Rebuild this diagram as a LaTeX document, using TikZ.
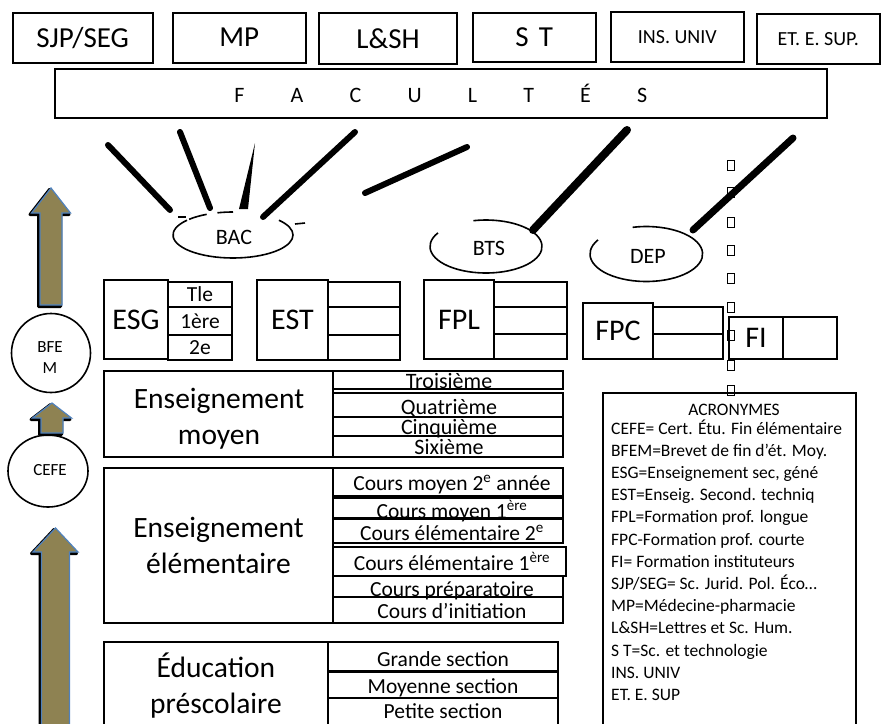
\documentclass[tikz,border=0pt]{standalone}
\usepackage{fontspec}
\setmainfont{Carlito}
\usetikzlibrary{shapes.geometric}
\definecolor{olivefill}{RGB}{142,130,82}
\definecolor{arrblue}{RGB}{79,129,189}
\newcommand\myfs[1]{\fontsize{#1}{#1}\selectfont}
\newcommand\rbox[7][]{\node[bx,#1,minimum width={(#5-#3)*1pt},minimum height={(#6-#4)*1pt}] (#2) at ({(#3+#5)/2},{(#4+#6)/2}) {#7};}
\newcommand\myarrow[6]{%
  \begin{scope}[shift={(-1.5,1.5)}]
    \draw[arrshadow] (#1,#2) -- ({#1+#5},#3) -- ({#1+#6},#3) -- ({#1+#6},#4) -- ({#1-#6},#4) -- ({#1-#6},#3) -- ({#1-#5},#3) -- cycle;
  \end{scope}
  \draw[arrmain] (#1,#2) -- ({#1+#5},#3) -- ({#1+#6},#3) -- ({#1+#6},#4) -- ({#1-#6},#4) -- ({#1-#6},#3) -- ({#1-#5},#3) -- cycle;
}
\newcommand\lsp{\hskip 2.1em}
\begin{document}
\begin{tikzpicture}[x=1pt,y=-1pt,
  bx/.style={draw,line width=2pt,inner sep=0pt,outer sep=0pt},
  t27/.style={font=\myfs{29}},
  t18/.style={font=\myfs{20}},
  t21/.style={font=\myfs{22},inner sep=0pt},
  t20/.style={font=\myfs{21.5},inner sep=0pt},
  t29/.style={font=\myfs{30}},
  lbl/.style={font=\fontsize{29.5}{36}\selectfont,align=center},
  acr/.style={font=\myfs{17.5},inner sep=0pt,anchor=base west},
  ell/.style={line width=1.6pt},
  stk/.style={line width=6pt,line cap=round},
  arrshadow/.style={fill=black,draw=black,line width=3pt,line join=round},
  arrmain/.style={fill=olivefill,draw=arrblue,line width=1.2pt,line join=miter},
  tofu/.style={line width=0.7pt},
  circ/.style={draw,line width=1.6pt,inner sep=0pt}]
\useasboundingbox (0,0) rectangle (882,723);
\clip (0,0) rectangle (882,723);

% top row
\rbox[t27]{sjp}{12.7}{12.7}{152.7}{62.7}{SJP/SEG}
\rbox[t27]{mp}{172.7}{12.5}{305.7}{62.5}{MP}
\rbox[t27]{lsh}{319.3}{12.7}{456.7}{64}{L\&SH}
\rbox[t27]{st}{472.7}{13}{595.7}{62}{S\hskip0.35em T}
\rbox[t18]{ins}{611}{12}{743.7}{62}{INS. UNIV}
\rbox[t18]{et}{756.7}{14}{880}{64}{ET. E. SUP.}

% faculties
\rbox[font=\myfs{22}]{fac}{55}{69.3}{826.7}{118.3}{F\lsp A\lsp C\lsp U\lsp L\lsp T\lsp É\lsp S}

% strokes
\draw[stk] (108,145) -- (170,210);
\draw[stk] (180,132) -- (210,208);
\fill (255,143) -- (248,209) -- (239,209) -- cycle;
\draw[stk] (355,132) -- (263,217);
\draw[stk] (467,147) -- (365,193);
\draw[stk,line width=8pt] (627,130) -- (533,230);
\draw[stk,line width=7pt] (793,138) -- (693,230);

% ellipses
\draw[ell] (233,235) ++(140:60pt and 23pt) arc[start angle=140,end angle=400,x radius=60pt,y radius=23pt];
\draw[ell] (233,235) ++(116:60pt and 23pt) arc[start angle=116,end angle=137,x radius=60pt,y radius=23pt];
\draw[ell] (233,235) ++(90:60pt and 23pt) arc[start angle=90,end angle=105,x radius=60pt,y radius=23pt];
\draw[ell] (178,217) -- (186,217);
\draw[ell] (295,224) -- (305,223);
\node[t21] (bac) at (234,237) {BAC};
\draw[ell] (486,246.5) ++(149:56pt and 26.5pt) arc[start angle=149,end angle=463,x radius=56pt,y radius=26.5pt];
\node[t21] (bts) at (489,248) {BTS};
\draw[ell] (646.3,254) ++(149:56.3pt and 27.5pt) arc[start angle=149,end angle=464,x radius=56.3pt,y radius=27.5pt];
\node[t21] (dep) at (648,256) {DEP};

% tofu column
\foreach \yy in {165,192,222,250,278,307,335,365,390}
  \draw[tofu] (727,{\yy-5}) rectangle (734,{\yy+5});

% ESG
\rbox[t29]{esg}{104}{280}{168}{359}{ESG}
\rbox[t20]{esga}{168}{282}{232}{306.7}{Tle}
\rbox[t20]{esgb}{168}{306.7}{232}{335}{1ère}
\rbox[t20]{esgc}{168}{335}{232}{360}{2e}
% EST
\rbox[t29]{est}{257}{280}{328}{360}{EST}
\rbox{esta}{328}{282}{400}{306.7}{}
\rbox{estb}{328}{306.7}{400}{335}{}
\rbox{estc}{328}{335}{400}{360}{}
% FPL
\rbox[t29]{fpl}{424}{280}{494}{359}{FPL}
\rbox{fpla}{494}{282}{567}{307}{}
\rbox{fplb}{494}{307}{567}{334}{}
\rbox{fplc}{494}{334}{567}{359}{}
% FPC
\rbox[t29]{fpc}{583}{303}{653}{359}{FPC}
\rbox{fpca}{653}{307}{723}{334}{}
\rbox{fpcb}{653}{334}{723}{359}{}
% FI
\rbox[t29]{fi}{729}{317}{783}{359}{FI}
\rbox{fia}{783}{317}{837}{359}{}

% enseignement moyen
\rbox[lbl]{moy}{104}{370.7}{333}{457.3}{}
\node[lbl,inner sep=0pt] (moyt) at (219,419) {Enseignement\\moyen};
\rbox{moya}{333}{370.7}{563}{389.3}{}
\rbox{moyb}{333}{393.3}{563}{416.7}{}
\rbox{moyc}{333}{416.7}{563}{435.7}{}
\rbox{moyd}{333}{435.7}{563}{457.3}{}
\node[t21,anchor=base] (troi) at (449,388) {Troisième};
\node[t21,anchor=base] (quat) at (449,414) {Quatrième};
\node[t21,anchor=base] (cinq) at (449,434) {Cinquième};
\node[t21,anchor=base] (sixi) at (449,454) {Sixième};

% enseignement elementaire
\rbox[lbl]{elem}{104}{468.3}{333}{623.3}{Enseignement\\élémentaire}
\rbox{elea}{333}{468.3}{563}{496}{}
\rbox{eleb}{333}{498.3}{563}{518.3}{}
\rbox{elec}{333}{519.3}{563}{543.3}{}
\rbox{eled}{333}{547.3}{566}{576}{}
\rbox{elee}{333}{576}{563}{597.3}{}
\rbox{elef}{333}{597.3}{563}{623.3}{}
\node[t20,anchor=base] (cm2) at (452,490) {Cours moyen 2\textsuperscript{e} année};
\node[t20,anchor=base] (cm1) at (452,518) {Cours moyen 1\textsuperscript{ère}};
\node[t20,anchor=base] (ce2) at (452,540) {Cours élémentaire 2\textsuperscript{e}};
\node[t20,anchor=base] (ce1) at (452,570) {Cours élémentaire 1\textsuperscript{ère}};
\node[t20,anchor=base] (cp) at (452,596) {Cours préparatoire};
\node[t20,anchor=base] (ci) at (452,618) {Cours d’initiation};

% education prescolaire
\rbox{educ}{104}{641.7}{328}{735}{}
\node[lbl,inner sep=0pt] (educt) at (216,686) {Éducation\\préscolaire};
\rbox{educa}{328}{641.7}{558}{670.7}{}
\rbox{educb}{328}{672}{558}{698}{}
\rbox{educc}{328}{698}{558}{735}{}
\node[t20,anchor=base] (gs) at (443,666) {Grande section};
\node[t20,anchor=base] (ms) at (443,693) {Moyenne section};
\node[t20,anchor=base] (ps) at (443,718.5) {Petite section};

% acronyms
\rbox{acro}{603}{393}{856}{740}{}
\node[font=\myfs{17.5},inner sep=0pt] (acrt) at (734,410) {ACRONYMES};
\node[acr] (a1) at (611,434) {CEFE= Cert. Étu. Fin élémentaire};
\node[acr] (a2) at (611,456.2) {BFEM=Brevet de fin d’ét. Moy.};
\node[acr] (a3) at (611,478.4) {ESG=Enseignement sec, géné};
\node[acr] (a4) at (611,500.6) {EST=Enseig. Second. techniq};
\node[acr] (a5) at (611,522.8) {FPL=Formation prof. longue};
\node[acr] (a6) at (611,545.0) {FPC-Formation prof. courte};
\node[acr] (a7) at (611,567.2) {FI= Formation instituteurs};
\node[acr] (a8) at (611,589.4) {SJP/SEG= Sc. Jurid. Pol. Éco…};
\node[acr] (a9) at (611,611.6) {MP=Médecine-pharmacie};
\node[acr] (a10) at (611,633.8) {L\&SH=Lettres et Sc. Hum.};
\node[acr] (a11) at (611,656.0) {S T=Sc. et technologie};
\node[acr] (a12) at (611,678.2) {INS. UNIV};
\node[acr] (a13) at (611,700.4) {ET. E. SUP};

% left column: arrows and circles
\myarrow{51}{188}{213}{305}{19.5}{11}
\node[circ,circle,minimum size=79pt] (bfem) at (51,353) {};
\node[font=\fontsize{17}{21}\selectfont,align=center,inner sep=0pt] (bfemt) at (50,358) {BFE\\M};
\myarrow{52}{403}{418}{433}{19.5}{11}
\node[circ,ellipse,minimum width=80pt,minimum height=72pt] (cefe) at (48,471) {};
\node[font=\myfs{17},inner sep=0pt] (cefet) at (50,470) {CEFE};
\myarrow{55.5}{528}{552}{745}{22.5}{14}
\end{tikzpicture}
\end{document}
